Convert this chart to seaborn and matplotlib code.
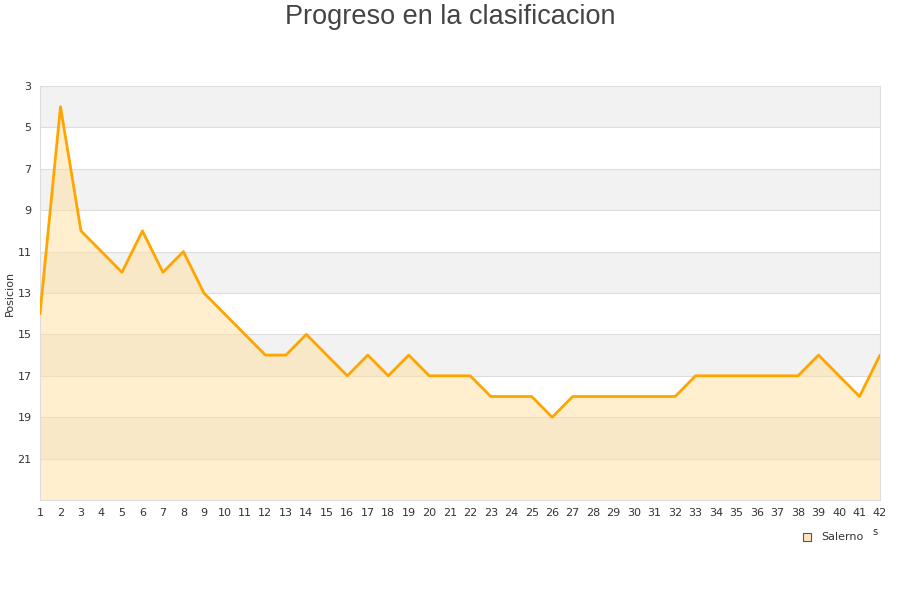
import matplotlib
matplotlib.use("Agg")
import matplotlib.pyplot as plt
import pandas as pd
import seaborn as sns

jornadas = list(range(1, 43))
posicion = [14, 4, 10, 11, 12, 10, 12, 11, 13, 14,
            15, 16, 16, 15, 16, 17, 16, 17, 16, 17,
            17, 17, 18, 18, 18, 19, 18, 18, 18, 18,
            18, 18, 17, 17, 17, 17, 17, 17, 16, 17,
            18, 16]
y_ticks = [3, 5, 7, 9, 11, 13, 15, 17, 19, 21]
equipo = "Salerno"

df = pd.DataFrame({"Jornada": jornadas, "Posicion": posicion})

sns.set_style("white")
plt.rcParams['font.family'] = ['DejaVu Sans']

fig = plt.figure(figsize=(9, 6), dpi=100)
ax = fig.add_axes([40/900, 1-500/600, 840/900, 414/600])

# alternating bands
for i, lo in enumerate(range(3, 23, 2)):
    if i % 2 == 0:
        ax.axhspan(lo, lo+2, color='#f2f2f2', zorder=0, lw=0)
for t in y_ticks[1:]:
    ax.axhline(t, color='#dddddd', lw=0.8, zorder=1)

ax.fill_between(df["Jornada"], df["Posicion"], 23, color='#ffe0a0', alpha=0.5, lw=0, zorder=2)
sns.lineplot(data=df, x="Jornada", y="Posicion", ax=ax, color='#ffa500', lw=2, zorder=3)

ax.set_xlim(1, 42)
ax.set_ylim(23, 3)
ax.set_yticks(y_ticks)
ax.set_xticks(jornadas)
ax.tick_params(axis='both', labelsize=8, colors='#333333', length=0, pad=6)
ax.set_xlabel("")
ax.set_ylabel("Posicion", fontsize=8, color='#333333', labelpad=2)
for s in ax.spines.values():
    s.set_color('#dddddd')
    s.set_linewidth(0.8)

fig.text(0.5, 1-17/600, "Progreso en la clasificacion", ha='center', va='center',
         fontsize=19.5, color='#444444', family='Liberation Sans')
fig.text(875/900, 1-532/600, "s", ha='center', va='center', fontsize=7, color='#333333')

# legend
fig.patches.append(plt.Rectangle((803/900, 1-541/600), 8/900, 8/600, transform=fig.transFigure,
                                 facecolor='#ffe8c0', edgecolor='#555555', lw=0.8))
fig.text(821/900, 1-537/600, equipo, ha='left', va='center', fontsize=8, color='#333333')

fig.savefig("out.png", dpi=100)
